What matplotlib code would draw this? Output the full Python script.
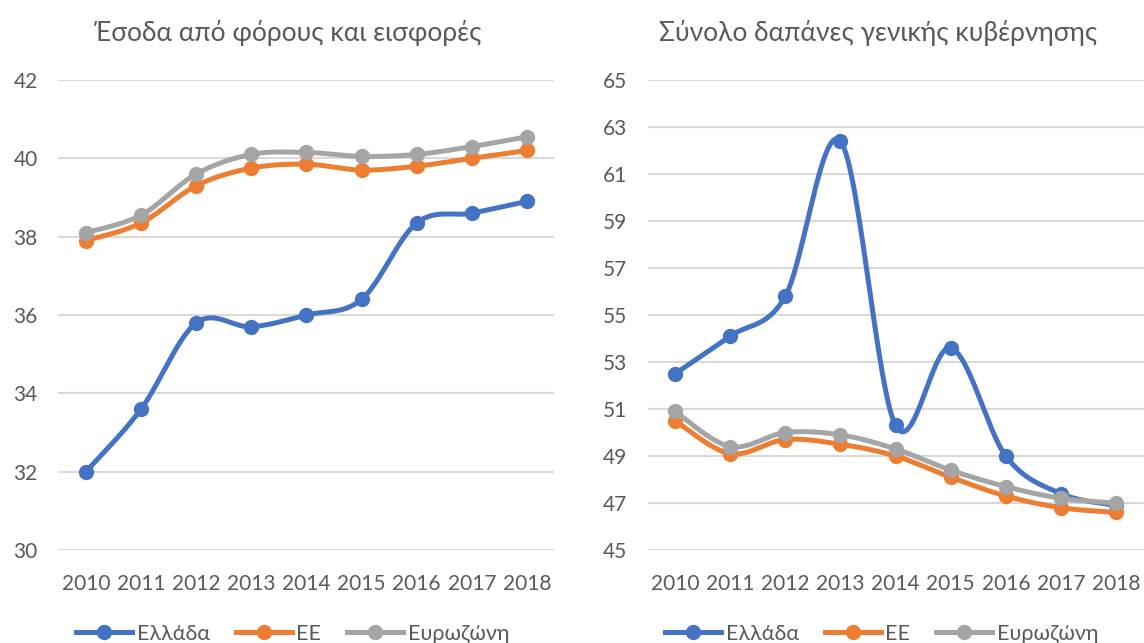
import numpy as np
import matplotlib.pyplot as plt

years = [2010, 2011, 2012, 2013, 2014, 2015, 2016, 2017, 2018]
series_names = ["Ελλάδα", "ΕΕ", "Ευρωζώνη"]

# revenue from taxes and contributions (% GDP)
rev_greece = [32.0, 33.6, 35.8, 35.7, 36.0, 36.4, 38.35, 38.6, 38.9]
rev_eu = [37.9, 38.35, 39.3, 39.75, 39.85, 39.7, 39.8, 40.0, 40.2]
rev_ez = [38.1, 38.55, 39.6, 40.1, 40.15, 40.05, 40.1, 40.3, 40.55]

# total general government expenditure (% GDP)
exp_greece = [52.5, 54.1, 55.8, 62.4, 50.3, 53.6, 49.0, 47.4, 46.9]
exp_eu = [50.5, 49.1, 49.7, 49.5, 49.0, 48.1, 47.3, 46.8, 46.6]
exp_ez = [50.9, 49.4, 50.0, 49.9, 49.3, 48.4, 47.7, 47.2, 47.0]

colors = ["#4472C4", "#ED7D31", "#A5A5A5"]
text_col = "#595959"

plt.rcParams["font.family"] = ["Lato", "DejaVu Sans"]


def smooth(x, y, n=30):
    # excel-like smoothed line: bezier through points, catmull-rom control points
    x = np.asarray(x, float)
    y = np.asarray(y, float)
    px = np.concatenate([[x[0]], x, [x[-1]]])
    py = np.concatenate([[y[0]], y, [y[-1]]])
    t = np.linspace(0, 1, n)
    xs, ys = [], []
    for i in range(len(x) - 1):
        p0 = np.array([px[i + 1], py[i + 1]])
        p3 = np.array([px[i + 2], py[i + 2]])
        c1 = p0 + (np.array([px[i + 2], py[i + 2]]) - np.array([px[i], py[i]])) / 6
        c2 = p3 - (np.array([px[i + 3], py[i + 3]]) - np.array([px[i + 1], py[i + 1]])) / 6
        b = ((1 - t) ** 3)[:, None] * p0 + (3 * (1 - t) ** 2 * t)[:, None] * c1 \
            + (3 * (1 - t) * t ** 2)[:, None] * c2 + (t ** 3)[:, None] * p3
        xs.append(b[:, 0])
        ys.append(b[:, 1])
    return np.concatenate(xs), np.concatenate(ys)


fig = plt.figure(figsize=(11.44, 6.43), dpi=100)
ax1 = fig.add_axes([0.0511, 0.1446, 0.4336, 0.731])
ax2 = fig.add_axes([0.566, 0.1446, 0.4336, 0.731])

panels = [
    (ax1, [rev_greece, rev_eu, rev_ez], (30, 42), np.arange(30, 43, 2),
     "Έσοδα από φόρους και εισφορές", 288),
    (ax2, [exp_greece, exp_eu, exp_ez], (45, 65), np.arange(45, 66, 2),
     "Σύνολο δαπάνες γενικής κυβέρνησης", 878),
]

for ax, data, ylim, yticks, title, tx in panels:
    xi = np.arange(len(years))
    handles = []
    for vals, c, name in zip(data, colors, series_names):
        sx, sy = smooth(xi, vals)
        ax.plot(sx, sy, color=c, lw=3.6, solid_capstyle="round", zorder=3)
        ax.plot(xi, vals, "o", color=c, ms=10, zorder=3)
        h, = ax.plot([], [], color=c, lw=3.6, marker="o", ms=10, label=name)
        handles.append(h)
    ax.set_xlim(-0.5, len(years) - 0.5)
    ax.set_ylim(*ylim)
    ax.set_yticks(yticks)
    ax.set_xticks(xi)
    ax.set_xticklabels([str(y) for y in years])
    ax.grid(axis="y", color="#D9D9D9", lw=1.5, zorder=0)
    ax.set_axisbelow(True)
    for s in ax.spines.values():
        s.set_visible(False)
    ax.tick_params(length=0, labelsize=15, labelcolor=text_col)
    ax.tick_params(axis="y", pad=15)
    ax.tick_params(axis="x", pad=17)
    fig.text(tx / 1144, 1 - 33 / 643, title, ha="center", va="center",
             fontsize=19, color=text_col)
    box = ax.get_position()
    fig.legend(handles=handles, loc="center",
               bbox_to_anchor=((box.x0 + box.x1) / 2 - 0.012, 1 - 634 / 643),
               ncol=3, frameon=False, fontsize=15.5, labelcolor=text_col,
               handlelength=2.6, columnspacing=1.2, handletextpad=0.22)

fig.savefig("out.png", dpi=100)
